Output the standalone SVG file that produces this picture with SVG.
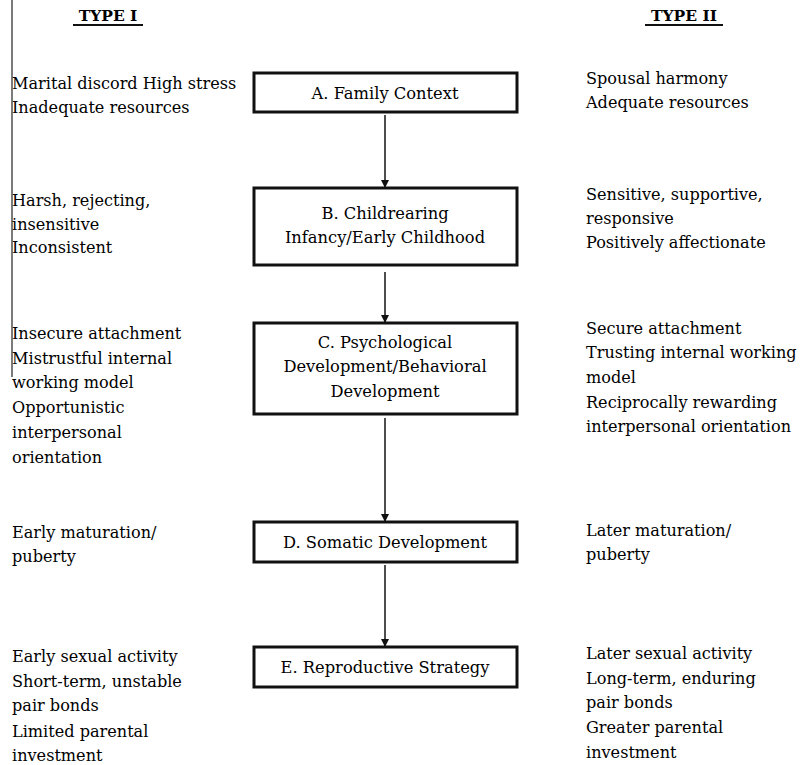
<svg xmlns="http://www.w3.org/2000/svg" width="807" height="765" viewBox="0 0 807 765">
<defs>
<style>
text{font-family:"DejaVu Serif","Liberation Serif",serif;font-size:16.1px;fill:#000}
.box text{font-size:16.3px;text-anchor:middle}
.hd{font-weight:bold;font-size:15.5px;text-anchor:middle}
.box rect{fill:#fff;stroke:#111;stroke-width:3}
.conn line{stroke:#222;stroke-width:1.6}
.ul{stroke:#111;stroke-width:1.8}
</style>
<marker id="ah" viewBox="0 0 10 10" refX="10" refY="5" markerWidth="8" markerHeight="8" markerUnits="userSpaceOnUse" orient="auto">
<path d="M0,0 L10,5 L0,10 Z" fill="#111"/>
</marker>
</defs>
<rect width="807" height="765" fill="#fff"/>
<line x1="12" y1="0" x2="12" y2="377" stroke="#222" stroke-width="1.2"/>
<g id="headers">
<text class="hd" x="108" y="21">TYPE I</text>
<line class="ul" x1="73" y1="25" x2="143" y2="25"/>
<text class="hd" x="684" y="21">TYPE II</text>
<line class="ul" x1="645" y1="25" x2="723" y2="25"/>
</g>
<g id="connectors" class="conn">
<line x1="385" y1="115" x2="385" y2="188" marker-end="url(#ah)"/>
<line x1="385" y1="272" x2="385" y2="323" marker-end="url(#ah)"/>
<line x1="385" y1="418" x2="385" y2="522" marker-end="url(#ah)"/>
<line x1="385" y1="565" x2="385" y2="647" marker-end="url(#ah)"/>
</g>
<g id="nodeA" class="box">
<rect x="254" y="73" width="263" height="39"/>
<text x="385" y="99">A. Family Context</text>
</g>
<g id="nodeB" class="box">
<rect x="254" y="188" width="263" height="77"/>
<text x="385" y="219">B. Childrearing</text>
<text x="385" y="243">Infancy/Early Childhood</text>
</g>
<g id="nodeC" class="box">
<rect x="254" y="323" width="263" height="91"/>
<text x="385" y="348">C. Psychological</text>
<text x="385" y="372">Development/Behavioral</text>
<text x="385" y="397">Development</text>
</g>
<g id="nodeD" class="box">
<rect x="254" y="522" width="263" height="40"/>
<text x="385" y="548">D. Somatic Development</text>
</g>
<g id="nodeE" class="box">
<rect x="254" y="647" width="263" height="40"/>
<text x="385" y="673">E. Reproductive Strategy</text>
</g>
<g id="typeI">
<text x="12" y="89">Marital discord High stress</text>
<text x="12" y="113">Inadequate resources</text>
<text x="12" y="206">Harsh, rejecting,</text>
<text x="12" y="230">insensitive</text>
<text x="12" y="253">Inconsistent</text>
<text x="12" y="339">Insecure attachment</text>
<text x="12" y="364">Mistrustful internal</text>
<text x="12" y="388">working model</text>
<text x="12" y="413">Opportunistic</text>
<text x="12" y="438">interpersonal</text>
<text x="12" y="463">orientation</text>
<text x="12" y="538">Early maturation/</text>
<text x="12" y="562">puberty</text>
<text x="12" y="662">Early sexual activity</text>
<text x="12" y="687">Short-term, unstable</text>
<text x="12" y="711">pair bonds</text>
<text x="12" y="737">Limited parental</text>
<text x="12" y="761">investment</text>
</g>
<g id="typeII">
<text x="586" y="84">Spousal harmony</text>
<text x="586" y="108">Adequate resources</text>
<text x="586" y="200">Sensitive, supportive,</text>
<text x="586" y="224">responsive</text>
<text x="586" y="248">Positively affectionate</text>
<text x="586" y="334">Secure attachment</text>
<text x="586" y="358">Trusting internal working</text>
<text x="586" y="383">model</text>
<text x="586" y="408">Reciprocally rewarding</text>
<text x="586" y="432">interpersonal orientation</text>
<text x="586" y="536">Later maturation/</text>
<text x="586" y="560">puberty</text>
<text x="586" y="659">Later sexual activity</text>
<text x="586" y="684">Long-term, enduring</text>
<text x="586" y="708">pair bonds</text>
<text x="586" y="733">Greater parental</text>
<text x="586" y="758">investment</text>
</g>
</svg>
